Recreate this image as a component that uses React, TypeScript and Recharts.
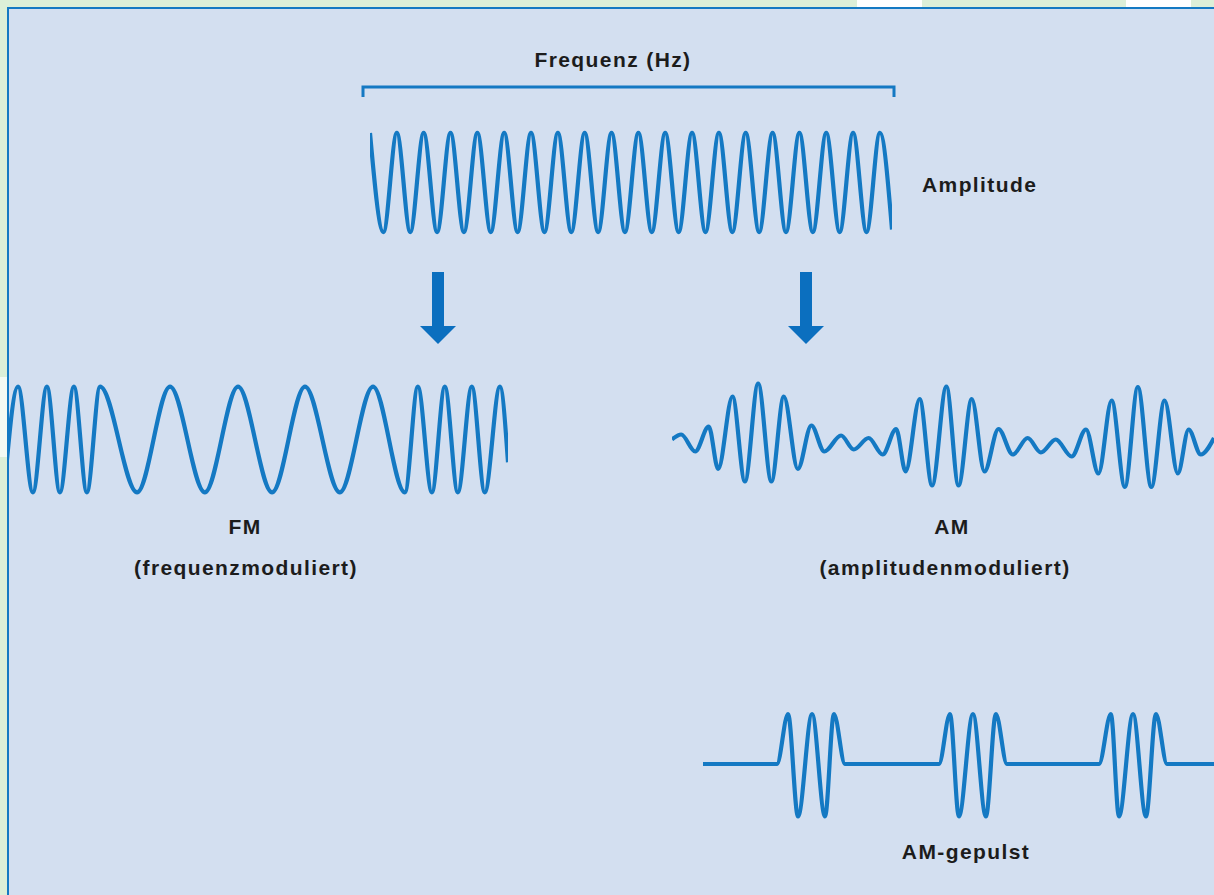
import React from "react";
import { Line, LineChart, XAxis, YAxis } from "recharts";

// carrier: extremes (t in carrier cycles, amplitude -1..1)
const carrierT = [0, 0.5, 1, 1.5, 2, 2.5, 3, 3.5, 4, 4.5, 5, 5.5, 6, 6.5, 7, 7.5, 8, 8.5, 9, 9.5, 10, 10.5, 11, 11.5, 12, 12.5, 13, 13.5, 14, 14.5, 15, 15.5, 16, 16.5, 17, 17.5, 18, 18.5, 19, 19.45];
const carrierAmp = [1, -1, 1, -1, 1, -1, 1, -1, 1, -1, 1, -1, 1, -1, 1, -1, 1, -1, 1, -1, 1, -1, 1, -1, 1, -1, 1, -1, 1, -1, 1, -1, 1, -1, 1, -1, 1, -1, 1, -0.95];

// FM: fast, then slow, then fast again
const fmT = [0, 0.52, 1.07, 1.59, 2.07, 2.59, 3.07, 3.56, 4.93, 6.15, 7.44, 8.67, 9.93, 11.15, 12.44, 13.67, 14.85, 15.33, 15.85, 16.33, 16.81, 17.33, 17.81, 18.37, 18.67];
const fmAmp = [-1, 1, -1, 1, -1, 1, -1, 1, -1, 1, -1, 1, -1, 1, -1, 1, -1, 1, -1, 1, -1, 1, -1, 1, -0.43];

// AM: swelling and shrinking envelope
const amT = [0, 0.34, 0.86, 1.36, 1.71, 2.24, 2.7, 3.19, 3.68, 4.14, 4.66, 5.16, 5.64, 6.26, 6.73, 7.28, 7.8, 8.3, 8.65, 9.17, 9.63, 10.16, 10.61, 11.1, 11.57, 12.09, 12.62, 13.17, 13.66, 14.21, 14.8, 15.33, 15.79, 16.28, 16.77, 17.25, 17.75, 18.24, 18.73, 19.13, 19.58, 20.07];
const amAmp = [-0.09, 0.01, -0.33, 0.17, -0.68, 0.77, -0.93, 1.03, -0.93, 0.77, -0.68, 0.19, -0.33, -0.01, -0.29, -0.06, -0.39, 0.12, -0.73, 0.72, -1.01, 0.97, -1.01, 0.72, -0.73, 0.12, -0.39, -0.06, -0.35, -0.09, -0.43, 0.11, -0.77, 0.69, -1.04, 0.96, -1.04, 0.69, -0.77, 0.11, -0.39, -0.06];

// AM pulsed: flat line with three short bursts
const pulseT = [0, 2.74, 3.15, 3.52, 4.04, 4.52, 4.85, 5.26, 8.74, 9.15, 9.48, 10.0, 10.48, 10.85, 11.26, 14.67, 15.11, 15.41, 15.93, 16.41, 16.78, 17.19, 18.93];
const pulseAmp = [0, 0, 1, -1.05, 1, -1.05, 1, 0, 0, 1, -1.05, 1, -1.05, 1, 0, 0, 1, -1.05, 1, -1.05, 1, 0, 0];

const zip = (ts: number[], as: number[]) => ts.map((t, i) => ({ t, a: as[i] }));

const BLUE = "#1479c3";
const font = "'Liberation Sans', Arial, sans-serif";
const textStyle = { font: `bold 21px ${font}`, letterSpacing: 1.4, color: "#1c1c1c", whiteSpace: "nowrap" as const };

function Wave({ data, left, top, width, height }: { data: { t: number; a: number }[]; left: number; top: number; width: number; height: number }) {
  const ts = data.map((d) => d.t);
  return (
    <div style={{ position: "absolute", left, top }}>
      <LineChart width={width} height={height} data={data} margin={{ top: 0, right: 0, bottom: 0, left: 0 }}>
        <XAxis type="number" dataKey="t" domain={[Math.min(...ts), Math.max(...ts)]} hide />
        <YAxis type="number" domain={[-1.2, 1.2]} hide />
        <Line type="monotone" dataKey="a" stroke={BLUE} strokeWidth={4.2} dot={false} isAnimationActive={false} />
      </LineChart>
    </div>
  );
}

function Label({ text, cx, y }: { text: string; cx: number; y: number }) {
  return (
    <div style={{ position: "absolute", left: cx - 200, top: y, width: 400, textAlign: "center", ...textStyle }}>
      {text}
    </div>
  );
}

function Arrow({ cx }: { cx: number }) {
  return (
    <svg style={{ position: "absolute", left: cx - 20, top: 270 }} width={40} height={78}>
      <rect x={14} y={2} width={12} height={58} fill="#0b6fbf" />
      <polygon points="2,56 38,56 20,74" fill="#0b6fbf" />
    </svg>
  );
}

export default function App() {
  return (
    <div style={{ position: "fixed", left: 0, top: 0, width: 1214, height: 895, background: "#dcefd8", overflow: "hidden" }}>
      <div style={{ position: "absolute", left: 857, top: 0, width: 65, height: 8, background: "#ffffff" }} />
      <div style={{ position: "absolute", left: 1126, top: 0, width: 65, height: 8, background: "#ffffff" }} />
      <div style={{ position: "absolute", left: 0, top: 377, width: 8, height: 80, background: "#f4faf3" }} />
      <div style={{ position: "absolute", left: 7, top: 7, width: 1214, height: 900, background: "#d3dff0", borderLeft: `2px solid ${BLUE}`, borderTop: `2px solid ${BLUE}`, overflow: "hidden" }}>
        <div style={{ position: "absolute", left: -9, top: -9, width: 1214, height: 895 }}>
          <Label text="Frequenz (Hz)" cx={613} y={48} />
          <svg style={{ position: "absolute", left: 360, top: 84 }} width={540} height={16}>
            <path d="M3,13 V3 H534 V13" fill="none" stroke={BLUE} strokeWidth={3} />
          </svg>
          <Wave data={zip(carrierT, carrierAmp)} left={370} top={123} width={522} height={119} />
          <div style={{ position: "absolute", left: 922, top: 173, ...textStyle }}>Amplitude</div>
          <Arrow cx={438} />
          <Arrow cx={806} />
          <Wave data={zip(fmT, fmAmp)} left={4} top={376} width={504} height={127} />
          <Wave data={zip(amT, amAmp)} left={672} top={375} width={542} height={120} />
          <Label text="FM" cx={245} y={515} />
          <Label text="(frequenzmoduliert)" cx={246} y={556} />
          <Label text="AM" cx={952} y={515} />
          <Label text="(amplitudenmoduliert)" cx={945} y={556} />
          <Wave data={zip(pulseT, pulseAmp)} left={703} top={704} width={511} height={120} />
          <Label text="AM-gepulst" cx={966} y={840} />
        </div>
      </div>
    </div>
  );
}
